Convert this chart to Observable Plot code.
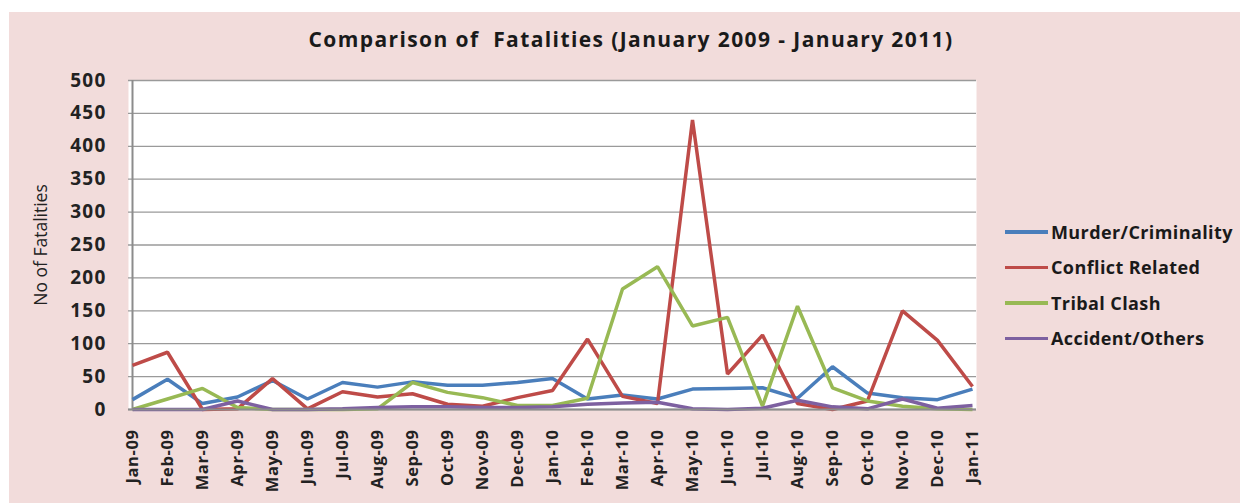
<!DOCTYPE html>
<html>
<head>
<meta charset="utf-8">
<script src="https://cdn.jsdelivr.net/npm/d3@7"></script>
<script src="https://cdn.jsdelivr.net/npm/@observablehq/plot@0.6"></script>
<style>
  body { margin: 0; background: #ffffff; font-family: "Open Sans", sans-serif; }
  #bg { position: absolute; left: 9px; top: 12px; width: 1231px; height: 491px; background: #f2dcdb; }
  #title { position: absolute; left: 0; top: 25px; width: 1262px; text-align: center; font-weight: bold; font-size: 21px; letter-spacing: 1.4px; color: #1a1a1a; }
  #chart { position: absolute; left: 0; top: 0; }
  #legend { position: absolute; left: 1005px; top: 214px; font-weight: bold; font-size: 18px; letter-spacing: 0.4px; color: #1a1a1a; }
  .item { display: flex; align-items: center; height: 35.5px; }
  .swatch { width: 43px; height: 3.5px; margin-right: 3px; }
</style>
</head>
<body>
<div id="bg"></div>
<div id="title">Comparison of&nbsp; Fatalities (January 2009 - January 2011)</div>
<div id="chart"></div>
<div id="legend"></div>
<script>
const months = ["Jan-09","Feb-09","Mar-09","Apr-09","May-09","Jun-09","Jul-09","Aug-09","Sep-09","Oct-09","Nov-09","Dec-09",
  "Jan-10","Feb-10","Mar-10","Apr-10","May-10","Jun-10","Jul-10","Aug-10","Sep-10","Oct-10","Nov-10","Dec-10","Jan-11"];
const murder   = [15,46,9,19,44,16,41,34,42,37,37,41,47,16,22,16,31,32,33,17,65,25,18,15,31];
const conflict = [67,87,0,1,47,1,27,19,24,8,5,18,29,107,20,9,440,54,113,9,0,13,150,105,35];
const tribal   = [0,16,32,3,0,0,0,1,41,26,18,6,6,17,183,217,127,140,5,157,33,13,5,1,0];
const accident = [0,0,0,13,0,0,1,3,4,4,3,3,4,8,10,11,1,0,2,14,4,1,16,2,6];
const seriesNames = ["Murder/Criminality","Conflict Related","Tribal Clash","Accident/Others"];
const seriesColors = ["#4a7ebb","#be4b48","#98b954","#7d60a0"];
const yTicks = [0,50,100,150,200,250,300,350,400,450,500];

const seriesValues = [murder, conflict, tribal, accident];
const data = [];
seriesNames.forEach((name, i) => {
  months.forEach((m, j) => data.push({month: m, value: seriesValues[i][j], series: name}));
});

const chart = Plot.plot({
  width: 1240,
  height: 503,
  marginLeft: 128,
  marginRight: 264,
  marginTop: 80,
  marginBottom: 94,
  style: { background: "transparent", fontFamily: "'Open Sans', sans-serif" },
  x: { type: "point", domain: months, padding: 0 },
  y: { domain: [0, 500] },
  color: { domain: seriesNames, range: seriesColors },
  marks: [
    Plot.frame({ fill: "white", stroke: "none" }),
    Plot.gridY(yTicks, { stroke: "#9a9a9a", strokeOpacity: 1, strokeWidth: 1.3 }),
    Plot.ruleX([months[0]], { stroke: "#8c8c8c", strokeWidth: 2 }),
    Plot.axisY(yTicks, { tickSize: 0, tickPadding: 22, fontSize: 19, fontWeight: "bold", fill: "#222",
      label: "No of Fatalities", labelAnchor: "center", labelArrow: "none", labelOffset: 94 }),
    Plot.axisX({ tickSize: 0, tickPadding: 20, tickRotate: -90, fontSize: 16.5, fontWeight: "bold", fill: "#222", label: null }),
    Plot.line(data, { x: "month", y: "value", z: "series", stroke: "series", strokeWidth: 3.5, strokeLinejoin: "miter", strokeLinecap: "butt" }),
    Plot.ruleY([0], { stroke: "#8c8c8c", strokeWidth: 2 })
  ]
});
document.getElementById("chart").appendChild(chart);
chart.querySelectorAll("[aria-label='y-axis tick label'] text").forEach(t => { t.style.letterSpacing = "1.2px"; });
chart.querySelectorAll("[aria-label='x-axis tick label'] text").forEach(t => { t.style.letterSpacing = "0.6px"; });
chart.querySelectorAll("[aria-label='y-axis label'] text").forEach(t => {
  t.style.fontSize = "17.5px"; t.style.fontWeight = "normal"; t.style.fill = "#222";
});

const legend = document.getElementById("legend");
seriesNames.forEach((name, i) => {
  const item = document.createElement("div");
  item.className = "item";
  item.innerHTML = `<div class="swatch" style="background:${seriesColors[i]}"></div><span>${name}</span>`;
  legend.appendChild(item);
});
</script>
</body>
</html>
